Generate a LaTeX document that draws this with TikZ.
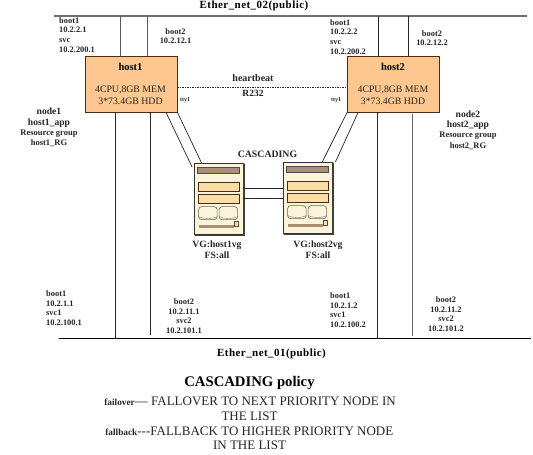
\documentclass[tikz,border=0pt]{standalone}
\usepackage{fontspec}
\setmainfont{Liberation Serif}
\usetikzlibrary{calc}
\definecolor{hostfill}{HTML}{FDC78F}
\definecolor{hostedge}{HTML}{4A2C14}
\definecolor{srvfill}{HTML}{FBF4D8}
\definecolor{srvbar}{HTML}{A98F78}
\definecolor{srvpanel}{HTML}{FBDDA6}
\definecolor{netgray}{HTML}{707070}
\newcommand{\fsz}[1]{\fontsize{#1}{#1}\selectfont}
\tikzset{
  x=1pt,y=-1pt,
  lbl/.style={font=\bfseries\fsz{8.4},align=center,inner sep=0pt,text=black!85,execute at begin node=\setlength{\baselineskip}{9.7pt}},
  lbll/.style={lbl,align=left},
  nodelbl/.style={lbl,font=\bfseries\fsz{9.6},execute at begin node=\setlength{\baselineskip}{10.4pt}},
  hostbox/.style={draw=hostedge,line width=0.9pt,fill=hostfill,minimum width=92pt,minimum height=56pt,inner sep=0pt},
  srvbox/.style={draw=black!80,line width=0.7pt,fill=srvfill,minimum width=49pt,minimum height=71pt,inner sep=0pt},
  net/.style={line width=1.3pt},
  wire/.style={line width=0.7pt,draw=black!85},
  title/.style={font=\bfseries\fsz{11},inner sep=0pt},
  body/.style={font=\fsz{9.8},inner sep=0pt,text=black!85},
  part/.style={draw=black!70,line width=0.6pt},
}
\newcommand{\srvparts}[1]{%
  \begin{scope}[shift={(#1.north west)}]
    \fill[black!75] (49.5,1) rectangle (51,73);
    \fill[black!75] (1,71.5) rectangle (51,73);
    \draw[part,fill=srvbar] (4,4.5) rectangle (45.5,10);
    \draw[part,draw=hostedge,fill=srvpanel] (4.5,19.5) rectangle (45.5,28.5);
    \draw[part,draw=hostedge,fill=srvpanel] (4.5,31) rectangle (45.5,40);
    \foreach \xa in {5,25.5}{
      \draw[part,draw=black!60,fill=srvfill,rounded corners=3pt] (\xa,43.5) rectangle ++(18.5,13);
      \draw[draw=black!50,line width=0.4pt] (\xa,53.5) .. controls ($(\xa,56)+(5,0)$) and ($(\xa,56)+(14,0)$) .. ($(\xa,53.5)+(18.5,0)$);
    }
    \fill[srvbar] (5,62) rectangle (40.5,65);
    \draw[part,fill=srvpanel] (41,58.5) rectangle (45,63);
  \end{scope}}
\begin{document}
\begin{tikzpicture}
\useasboundingbox[fill=white] (0,0) rectangle (533,455);

% networks
\coordinate (n2w) at (54,16);  \coordinate (n2e) at (527,16);
\coordinate (n1w) at (59,338); \coordinate (n1e) at (531,338);
\draw[net,draw=netgray] (n2w) -- (n2e);
\draw[net,line width=1pt,draw=black] (n1w) -- (n1e);
\node[title] (ether2) at (254,5.5) {\addfontfeatures{LetterSpace=4}Ether\_net\_02(public)};
\node[title] (ether1) at (271.5,353.5) {\addfontfeatures{LetterSpace=4}Ether\_net\_01(public)};

% hosts
\node[hostbox] (host1) at (131,84) {};
\node[hostbox] (host2) at (393.5,84) {};
\node[font=\bfseries\fsz{10.5},inner sep=0pt] (h1t) at (130.5,66.5) {host1};
\node[body,align=center,execute at begin node=\setlength{\baselineskip}{11.5pt}] (h1b) at (130.5,95.5) {4CPU,8GB MEM\\3*73.4GB HDD};
\node[font=\bfseries\fsz{10.5},inner sep=0pt] (h2t) at (393,66.5) {host2};
\node[body,align=center,execute at begin node=\setlength{\baselineskip}{11.5pt}] (h2b) at (393,95.5) {4CPU,8GB MEM\\3*73.4GB HDD};

% servers
\node[srvbox] (srv1) at (218.5,199) {};
\node[srvbox] (srv2) at (307.5,198) {};
\srvparts{srv1}
\srvparts{srv2}

% host-to-network wires
\coordinate (t1a) at (120,16); \coordinate (t1b) at (147,16);
\coordinate (t2a) at (378,16); \coordinate (t2b) at (408,16);
\draw[wire,draw=black!65,line width=0.9pt] (t1a) -- (t1a |- host1.north);
\draw[wire,draw=black!65,line width=0.9pt] (t1b) -- (t1b |- host1.north);
\draw[wire] (t2a) -- (t2a |- host2.north);
\draw[wire] (t2b) -- (t2b |- host2.north);
\coordinate (b1a) at (115.5,338); \coordinate (b1b) at (150,335);
\coordinate (b2a) at (377.5,339); \coordinate (b2b) at (412,336);
\draw[wire] (b1a) -- (b1a |- host1.south);
\draw[wire] (b1b) -- (b1b |- host1.south);
\draw[wire] (b2a) -- (b2a |- host2.south);
\draw[wire,draw=black!60,line width=0.9pt] (b2b) -- ($(b2b |- host2.south)+(0,2)$);

% heartbeat
\draw[wire,dash pattern=on 1.5pt off 1pt,line width=0.6pt] (host1.east |- 0,87) -- (host2.west |- 0,87);

% host-to-storage wires
\draw[wire] ($(host1.south west)+(81.5,0)$) -- ($(srv1.north west)+(-1.5,4)$);
\draw[wire] (host1.south east) -- ($(srv1.north west)+(8,0)$);
\draw[wire] (host2.south west) -- ($(srv2.north west)+(39.5,0)$);
\draw[wire] ($(host2.south west)+(11,0)$) -- ($(srv2.north east)+(3,0)$);
\draw[wire] ($(srv1.east)+(0,-11)$) -- ($(srv2.west)+(0,-10)$);
\draw[wire] ($(srv1.east)+(0,-1)$) -- ($(srv2.west)+(0,0)$);

% labels
\node[lbll,anchor=north west] (l1) at (59,17) {boot1\\10.2.2.1\\svc\\10.2.200.1};
\node[lbl] (l2) at (175.5,36) {boot2\\10.2.12.1};
\node[lbll,anchor=north west] (l3) at (330,19) {boot1\\10.2.2.2\\svc\\10.2.200.2};
\node[lbl] (l4) at (432,38) {boot2\\10.2.12.2};
\node[nodelbl] (n1) at (49,127.5) {node1\\host1\_app\\{\fsz{8.5}Resource group}\\{\fsz{8.5}host1\_RG}};
\node[nodelbl] (n2) at (468,130) {node2\\host2\_app\\{\fsz{8.5}Resource group}\\{\fsz{8.5}host2\_RG}};
\node[lbl,font=\bfseries\fsz{6}] (tty1) at (185,100) {tty1};
\node[lbl,font=\bfseries\fsz{6}] (tty2) at (336,100) {tty1};
\node[lbl,font=\bfseries\fsz{10}] (hb) at (253,78) {heartbeat};
\node[lbl,font=\bfseries\fsz{9.5}] (rs) at (253,93) {R232};
\node[lbl,font=\bfseries\fsz{9.8}] (casc) at (267.5,154) {CASCADING};
\node[lbl,font=\bfseries\fsz{9.6},execute at begin node=\setlength{\baselineskip}{11pt}] (vg1) at (217,250) {VG:host1vg\\FS:all};
\node[lbl,font=\bfseries\fsz{9.6},execute at begin node=\setlength{\baselineskip}{11pt}] (vg2) at (318,250) {VG:host2vg\\FS:all};
\node[lbll,anchor=north west] (l5) at (46,290.5) {boot1\\10.2.1.1\\svc1\\10.2.100.1};
\node[lbl] (l6) at (184,316) {boot2\\10.2.11.1\\svc2\\10.2.101.1};
\node[lbll,anchor=north west] (l7) at (330,292.5) {boot1\\10.2.1.2\\svc1\\10.2.100.2};
\node[lbl] (l8) at (446,314) {boot2\\10.2.11.2\\svc2\\10.2.101.2};

% policy
\node[font=\bfseries\fsz{14.7},inner sep=0pt] (pol) at (249.5,383) {CASCADING policy};
\node[inner sep=0pt,anchor=east,font=\fsz{13},text=black!85] (f1) at (396,401) {{\bfseries\fsz{9.3}failover}— FALLOVER TO NEXT PRIORITY NODE IN};
\node[inner sep=0pt,font=\fsz{13},text=black!85] (f2) at (249.5,416) {THE LIST};
\node[inner sep=0pt,anchor=east,font=\fsz{13},text=black!85] (f3) at (393.5,431) {{\bfseries\fsz{9.3}fallback}-{}-{}-FALLBACK TO HIGHER PRIORITY NODE};
\node[inner sep=0pt,font=\fsz{13},text=black!85] (f4) at (249.5,445.5) {IN THE LIST};
\end{tikzpicture}
\end{document}
